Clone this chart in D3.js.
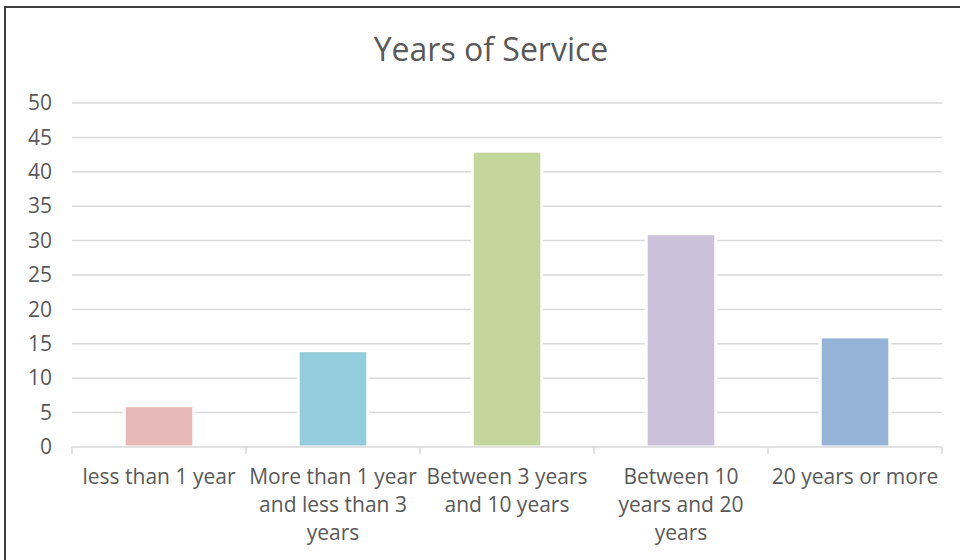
<!DOCTYPE html>
<html>
<head>
<meta charset="utf-8">
<script src="https://cdn.jsdelivr.net/npm/d3@7"></script>
<style>
  body { margin: 0; background: #fff; }
  svg { display: block; font-family: "Open Sans", Lato, sans-serif; }
</style>
</head>
<body>
<svg></svg>
<script>
const categories = [
  "less than 1 year",
  "More than 1 year and less than 3 years",
  "Between 3 years and 10 years",
  "Between 10 years and 20 years",
  "20 years or more",
];
const categoryLines = [
  ["less than 1 year"],
  ["More than 1 year", "and less than 3", "years"],
  ["Between 3 years", "and 10 years"],
  ["Between 10", "years and 20", "years"],
  ["20 years or more"],
];
const values = [6, 14, 43, 31, 16];
const barColors = ["#e6b9b8", "#93cddd", "#c3d69b", "#ccc1da", "#95b3d7"];
const yTicks = [0, 5, 10, 15, 20, 25, 30, 35, 40, 45, 50];
const titleText = "Years of Service";

const width = 960;
const height = 560;
const margin = { top: 103, right: 18, bottom: 113, left: 72 };
const innerWidth = width - margin.left - margin.right;
const innerHeight = height - margin.top - margin.bottom;

const svg = d3.select("svg").attr("width", width).attr("height", height);

// outer chart border (cut by the screenshot on the right and bottom)
svg
  .append("rect")
  .attr("x", 5)
  .attr("y", 7)
  .attr("width", 1000)
  .attr("height", 1000)
  .attr("fill", "#fff")
  .attr("stroke", "#404040")
  .attr("stroke-width", 2);

svg
  .append("text")
  .attr("x", 491)
  .attr("y", 61)
  .attr("text-anchor", "middle")
  .attr("fill", "#595959")
  .attr("font-size", 32)
  .text(titleText);

const xScale = d3
  .scaleBand()
  .domain(categories)
  .range([0, innerWidth])
  .paddingInner(0.6)
  .paddingOuter(0.3);

const yScale = d3.scaleLinear().domain([0, 50]).range([innerHeight, 0]);

const chart = svg
  .append("g")
  .attr("transform", `translate(${margin.left},${margin.top})`);

// gridlines
chart
  .append("g")
  .selectAll("line")
  .data(yTicks.filter((d) => d > 0))
  .join("line")
  .attr("x1", 0)
  .attr("x2", innerWidth)
  .attr("y1", (d) => yScale(d))
  .attr("y2", (d) => yScale(d))
  .attr("stroke", "#d9d9d9")
  .attr("stroke-width", 1.5);

// y axis labels
const yAxisG = chart
  .append("g")
  .call(d3.axisLeft(yScale).tickValues(yTicks).tickSize(0).tickPadding(20));
yAxisG.select(".domain").remove();
yAxisG
  .selectAll("text")
  .attr("font-family", "'Open Sans', Lato, sans-serif")
  .attr("font-size", 21)
  .attr("fill", "#595959");

// bars
chart
  .selectAll("rect.bar")
  .data(values)
  .join("rect")
  .attr("class", "bar")
  .attr("x", (d, i) => xScale(categories[i]))
  .attr("y", (d) => yScale(d))
  .attr("width", xScale.bandwidth())
  .attr("height", (d) => innerHeight - yScale(d))
  .attr("fill", (d, i) => barColors[i])
  .attr("stroke", "#fff")
  .attr("stroke-width", 3);

// x axis line with tick marks between categories
const step = innerWidth / categories.length;
const xAxisG = chart.append("g").attr("transform", `translate(0,${innerHeight})`);
xAxisG
  .append("line")
  .attr("x1", 0)
  .attr("x2", innerWidth)
  .attr("stroke", "#d9d9d9")
  .attr("stroke-width", 1.5);
xAxisG
  .selectAll("line.tick")
  .data(d3.range(categories.length + 1))
  .join("line")
  .attr("class", "tick")
  .attr("x1", (d) => d * step)
  .attr("x2", (d) => d * step)
  .attr("y1", 0)
  .attr("y2", 7)
  .attr("stroke", "#d9d9d9")
  .attr("stroke-width", 1.5);

// category labels
const labels = xAxisG
  .selectAll("text.cat")
  .data(categories)
  .join("text")
  .attr("class", "cat")
  .attr("text-anchor", "middle")
  .attr("fill", "#595959")
  .attr("font-size", 21)
  .attr("transform", (d) => `translate(${xScale(d) + xScale.bandwidth() / 2},37)`);

labels
  .selectAll("tspan")
  .data((d, i) => categoryLines[i])
  .join("tspan")
  .attr("x", 0)
  .attr("y", (d, i) => i * 28)
  .text((d) => d);
</script>
</body>
</html>
